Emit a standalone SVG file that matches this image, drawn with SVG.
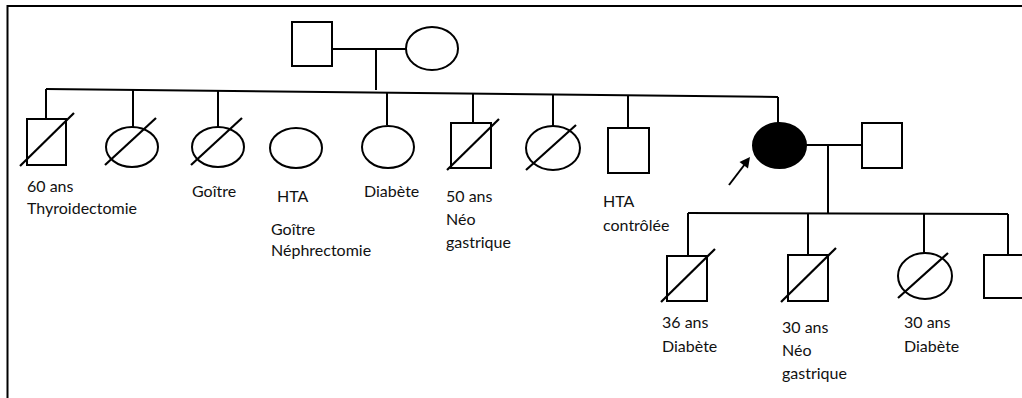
<svg xmlns="http://www.w3.org/2000/svg" width="1022" height="398" viewBox="0 0 1022 398">
<defs>
<style>
.s{fill:#fff;stroke:#000;stroke-width:2}
.a{fill:#000;stroke:#000;stroke-width:2}
.l{fill:none;stroke:#000;stroke-width:2}
.d{fill:none;stroke:#000;stroke-width:2.2}
text{font-family:Lato,"Open Sans","Liberation Sans",sans-serif;font-size:16px;fill:#111}
</style>
</defs>
<rect x="0" y="0" width="1022" height="398" fill="#fff"/>
<path class="l" d="M7.5,398 V6 H1022" stroke-width="2.5"/>
<g id="connectors">
<path class="l" d="M332,49 H406"/>
<path class="l" d="M376,49 V90"/>
<path class="l" d="M46,89 L778,97"/>
<path class="l" d="M46,89 V119"/>
<path class="l" d="M133,90 V127"/>
<path class="l" d="M218,91 V127"/>
<path class="l" d="M387,93 V125"/>
<path class="l" d="M473,94 V123"/>
<path class="l" d="M553,95 V126"/>
<path class="l" d="M628,96 V128"/>
<path class="l" d="M778,97 V123"/>
<path class="l" d="M806,145 H862"/>
<path class="l" d="M828,145 V213"/>
<path class="l" d="M688,213 L1008,214"/>
<path class="l" d="M688,213 V256"/>
<path class="l" d="M808,213 V255"/>
<path class="l" d="M924,214 V253"/>
<path class="l" d="M1008,214 V255"/>
<g id="arrow"><path class="l" d="M729,185 L745,164" stroke-width="2.8"/><polygon points="750,157 748,168.5 739.5,162" fill="#000"/></g>
</g>
<g id="father"><rect class="s" x="292" y="22" width="40" height="44"/></g>
<g id="mother"><ellipse class="s" cx="432" cy="48.5" rx="26" ry="21.5"/></g>
<g id="c1"><rect class="s" x="27" y="119" width="39" height="46"/><path class="d" d="M20,166 L74,113"/>
<text x="27" y="192">60 ans</text><text x="27" y="214">Thyroidectomie</text></g>
<g id="c2"><ellipse class="s" cx="132" cy="147" rx="26" ry="20"/><path class="d" d="M105,165 L156,118"/></g>
<g id="c3"><ellipse class="s" cx="218" cy="147" rx="26" ry="20"/><path class="d" d="M191,165 L242,118"/>
<text x="192" y="197">Goître</text></g>
<g id="c4"><ellipse class="s" cx="296" cy="148" rx="26" ry="20"/>
<text x="277" y="202">HTA</text><text x="271" y="235">Goître</text><text x="271" y="256">Néphrectomie</text></g>
<g id="c5"><ellipse class="s" cx="388" cy="147" rx="26" ry="21"/>
<text x="364" y="197">Diabète</text></g>
<g id="c6"><rect class="s" x="451" y="123" width="40" height="45"/><path class="d" d="M447,170 L499,119"/>
<text x="446" y="202">50 ans</text><text x="446" y="225">Néo</text><text x="446" y="248">gastrique</text></g>
<g id="c7"><ellipse class="s" cx="553" cy="148" rx="27" ry="22"/><path class="d" d="M526,170 L576,125"/></g>
<g id="c8"><rect class="s" x="608" y="128" width="41" height="45"/>
<text x="603" y="207">HTA</text><text x="603" y="231">contrôlée</text></g>
<g id="proband"><ellipse class="a" cx="779.5" cy="145.5" rx="26.5" ry="22.5"/></g>
<g id="spouse"><rect class="s" x="862" y="123" width="40" height="45"/></g>
<g id="g1"><rect class="s" x="667" y="256" width="40" height="45"/><path class="d" d="M661,302 L715,249"/>
<text x="662" y="328">36 ans</text><text x="662" y="352">Diabète</text></g>
<g id="g2"><rect class="s" x="788" y="255" width="40" height="46"/><path class="d" d="M781,302 L836,248"/>
<text x="782" y="333">30 ans</text><text x="782" y="356">Néo</text><text x="782" y="379">gastrique</text></g>
<g id="g3"><ellipse class="s" cx="925" cy="276" rx="27" ry="23"/><path class="d" d="M898,298 L948,253"/>
<text x="904" y="328">30 ans</text><text x="904" y="352">Diabète</text></g>
<g id="g4"><rect class="s" x="984" y="255" width="42" height="43"/></g>
</svg>
